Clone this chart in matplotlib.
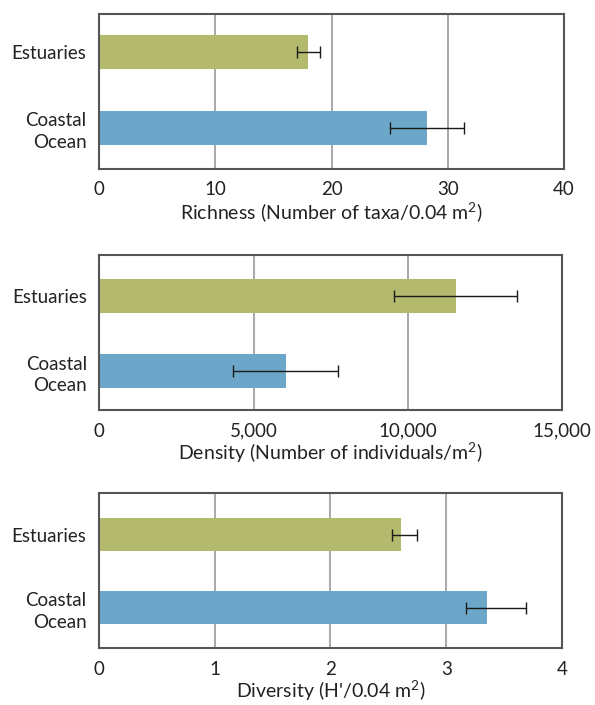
import matplotlib
matplotlib.use("Agg")
import matplotlib.pyplot as plt

categories = ["Estuaries", "Coastal\nOcean"]
bar_colors = ["#b3ba6d", "#6ca6c8"]

richness = [18.0, 28.2]
richness_err_lo = [1.0, 3.2]
richness_err_hi = [1.0, 3.2]

density = [11550, 6050]
density_err_lo = [2000, 1700]
density_err_hi = [2000, 1700]

diversity = [2.61, 3.35]
diversity_err_lo = [0.08, 0.18]
diversity_err_hi = [0.14, 0.34]

richness_ticks = [0, 10, 20, 30, 40]
density_ticks = [0, 5000, 10000, 15000]
density_ticklabels = ["0", "5,000", "10,000", "15,000"]
diversity_ticks = [0, 1, 2, 3, 4]

xlabels = ["Richness (Number of taxa/0.04 m$^{2}$)",
           "Density (Number of individuals/m$^{2}$)",
           "Diversity (H'/0.04 m$^{2}$)"]

plt.rcParams['font.family'] = ['Lato', 'DejaVu Sans']
plt.rcParams['font.size'] = 13
plt.rcParams['mathtext.fontset'] = 'custom'
plt.rcParams['mathtext.rm'] = 'Lato'
plt.rcParams['mathtext.it'] = 'Lato'
plt.rcParams['mathtext.default'] = 'regular'
text_color = "#222222"

fig = plt.figure(figsize=(5.95, 7.05), dpi=100)
positions = [
    [0.1664, 0.7603, 0.7815, 0.2199],
    [0.1669, 0.4184, 0.7776, 0.2199],
    [0.1664, 0.0804, 0.7781, 0.2199],
]
panels = [
    (richness, richness_err_lo, richness_err_hi, richness_ticks, [str(t) for t in richness_ticks]),
    (density, density_err_lo, density_err_hi, density_ticks, density_ticklabels),
    (diversity, diversity_err_lo, diversity_err_hi, diversity_ticks, [str(t) for t in diversity_ticks]),
]
ylims = [(-0.54, 1.5), (-0.52, 1.55), (-0.56, 1.57)]

ypos = [1, 0]
for i, (pos, (vals, lo, hi, ticks, tlabels)) in enumerate(zip(positions, panels)):
    ax = fig.add_axes(pos)
    ax.set_axisbelow(True)
    ax.xaxis.grid(True, color="#9a9a9a", linewidth=1.2)
    ax.barh(ypos, vals, height=0.45, color=bar_colors, zorder=2)
    ax.errorbar(vals, ypos, xerr=[lo, hi], fmt='none', ecolor="#1a1a1a",
                elinewidth=1.0, capsize=4, capthick=1.0, zorder=3)
    ax.set_xlim(ticks[0], ticks[-1])
    ax.set_xticks(ticks)
    ax.set_xticklabels(tlabels, color=text_color, fontsize=13.5)
    ax.set_ylim(*ylims[i])
    ax.set_yticks(ypos)
    ax.set_yticklabels(categories, color=text_color, fontsize=13.5,
                       multialignment='right', linespacing=1.35)
    ax.tick_params(axis='both', length=0)
    ax.tick_params(axis='x', pad=9)
    ax.tick_params(axis='y', pad=9)
    for sp in ax.spines.values():
        sp.set_color("#555555")
        sp.set_linewidth(1.5)
    ax.set_xlabel(xlabels[i], color=text_color, fontsize=14, labelpad=1)

fig.savefig("out.png", dpi=100)
